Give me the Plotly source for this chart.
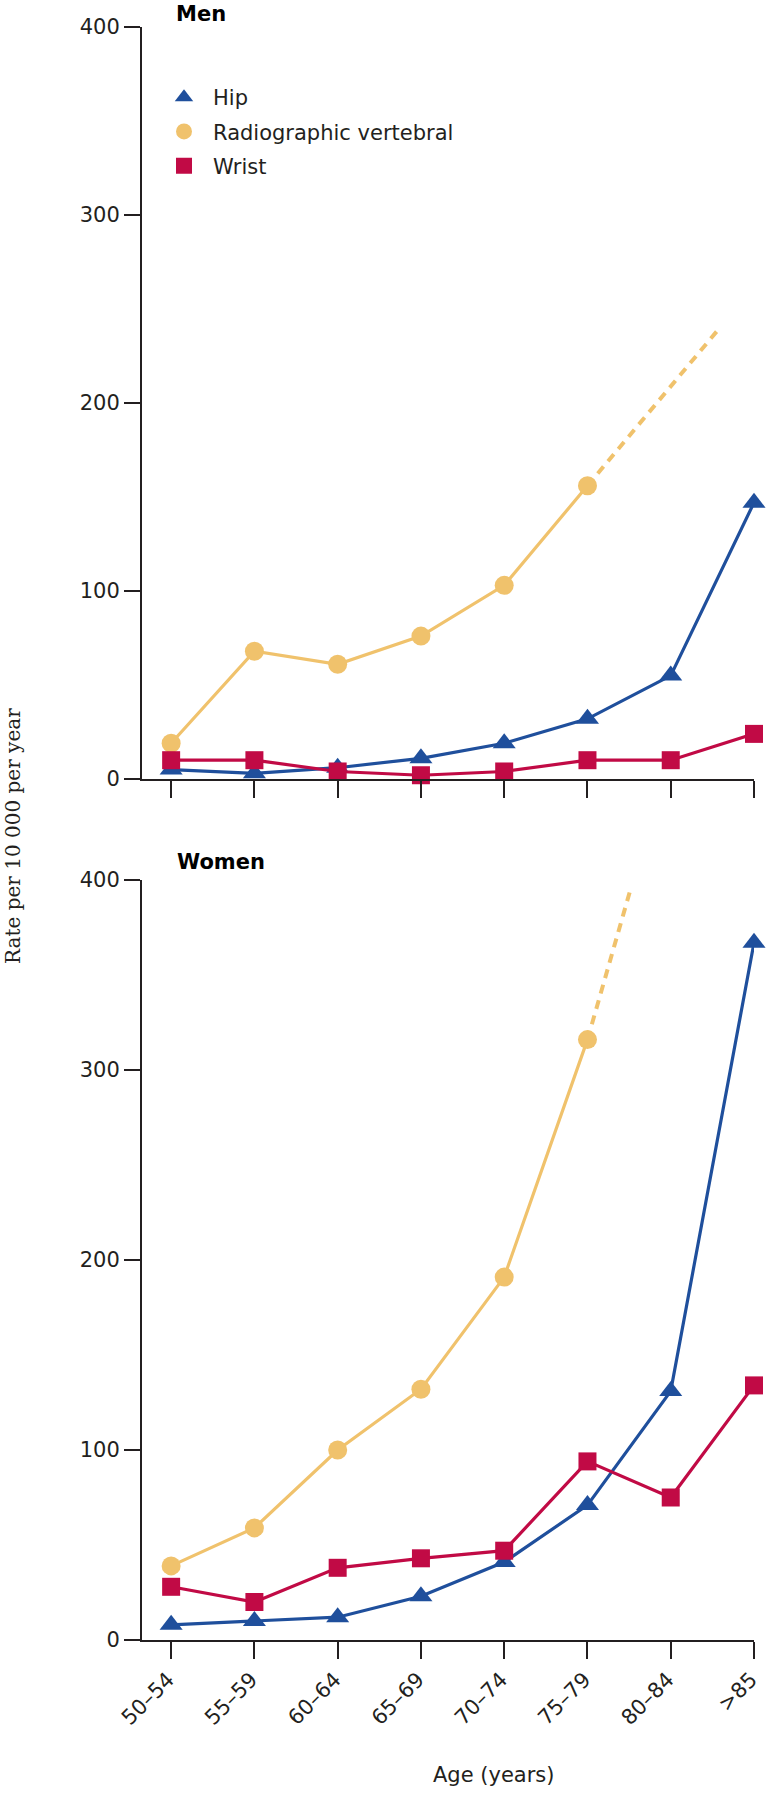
import plotly.graph_objects as go

# ---- data ----
age_groups = ["50–54", "55–59", "60–64", "65–69", "70–74", "75–79", "80–84", ">85"]
cat_pos = [0, 1, 2, 3, 4, 5, 6, 7]

men_hip = [5, 3, 6, 11, 19, 32, 55, 147]
men_vert = [19, 68, 61, 76, 103, 156]
men_wrist = [10, 10, 4, 2, 4, 10, 10, 24]
men_vert_ext_x = [5, 6.57]
men_vert_ext_y = [156, 239]

women_hip = [8, 10, 12, 23, 41, 71, 131, 367]
women_vert = [39, 59, 100, 132, 191, 316]
women_wrist = [28, 20, 38, 43, 47, 94, 75, 134]
women_vert_ext_x = [5, 5.51]
women_vert_ext_y = [316, 394]

y_ticks = [0, 100, 200, 300, 400]

# ---- styling ----
HIP = "#1f4f9c"
VERT = "#f0c26c"
WRIST = "#c10a45"
INK = "#231f20"
W, H = 768, 1793
FONT = "DejaVu Sans"

fig = go.Figure()


def add_panel(xa, ya, hip, vert, wrist, ext_x, ext_y):
    fig.add_trace(go.Scatter(x=ext_x, y=ext_y, mode="lines", xaxis=xa, yaxis=ya,
                             line=dict(color=VERT, width=4, dash="9px,7px"),
                             showlegend=False, cliponaxis=False))
    fig.add_trace(go.Scatter(x=cat_pos[:len(vert)], y=vert, mode="lines+markers",
                             xaxis=xa, yaxis=ya, line=dict(color=VERT, width=3.2),
                             marker=dict(symbol="circle", size=19, color=VERT),
                             showlegend=False, cliponaxis=False))
    fig.add_trace(go.Scatter(x=cat_pos, y=hip, mode="lines+markers",
                             xaxis=xa, yaxis=ya, line=dict(color=HIP, width=3.2),
                             marker=dict(symbol="triangle-up", size=20, color=HIP),
                             showlegend=False, cliponaxis=False))
    fig.add_trace(go.Scatter(x=cat_pos, y=wrist, mode="lines+markers",
                             xaxis=xa, yaxis=ya, line=dict(color=WRIST, width=3.2),
                             marker=dict(symbol="square", size=18, color=WRIST),
                             showlegend=False, cliponaxis=False))


add_panel("x", "y", men_hip, men_vert, men_wrist, men_vert_ext_x, men_vert_ext_y)
add_panel("x2", "y2", women_hip, women_vert, women_wrist, women_vert_ext_x, women_vert_ext_y)

# legend-only entries (markers only, as in the reference legend)
for name, color, sym, size, grp in [("Hip", HIP, "triangle-up", 20, "a"),
                                    ("Radiographic vertebral", VERT, "circle", 19, "b"),
                                    ("Wrist", WRIST, "square", 18, "c")]:
    fig.add_trace(go.Scatter(x=[None], y=[None], mode="markers", name=name,
                             legendgroup=grp, xaxis="x", yaxis="y",
                             marker=dict(symbol=sym, size=size, color=color)))

x_dom = [142 / W, 754 / W]
men_dom = [1 - 779 / H, 1 - 27 / H]
women_dom = [1 - 1640 / H, 1 - 880 / H]

common_x = dict(range=[-0.35, 7], tickmode="array", tickvals=cat_pos, ticktext=age_groups,
                showline=True, linecolor=INK, linewidth=2, ticks="outside", ticklen=17,
                tickwidth=2, tickcolor=INK, showgrid=False, zeroline=False,
                automargin=False, fixedrange=True,
                tickfont=dict(family=FONT, size=21, color=INK))
common_y = dict(range=[0, 400], tickmode="array", tickvals=y_ticks,
                showline=True, linecolor=INK, linewidth=2, ticks="outside", ticklen=16,
                tickwidth=2, tickcolor=INK, showgrid=False, zeroline=False,
                automargin=False, fixedrange=True,
                tickfont=dict(family=FONT, size=21, color=INK))

fig.update_layout(
    width=W, height=H, template="none",
    paper_bgcolor="white", plot_bgcolor="white",
    margin=dict(l=0, r=0, t=0, b=0),
    font=dict(family=FONT, size=21, color=INK),
    xaxis=dict(domain=x_dom, anchor="y", showticklabels=False, **common_x),
    yaxis=dict(domain=men_dom, anchor="x", **common_y),
    xaxis2=dict(domain=x_dom, anchor="y2", showticklabels=True, tickangle=-45,
                ticklabelshift=-3, **common_x),
    yaxis2=dict(domain=women_dom, anchor="x2", **common_y),
    showlegend=True,
    legend=dict(x=155 / W, y=1 - 77 / H, xanchor="left", yanchor="top",
                bgcolor="rgba(0,0,0,0)", borderwidth=0, tracegroupgap=4,
                itemwidth=48,
                font=dict(family=FONT, size=21, color=INK), itemsizing="trace"),
    annotations=[
        dict(text="<b>Men</b>", x=174 / W, y=1 - 14 / H, xref="paper", yref="paper",
             xanchor="left", yanchor="middle", showarrow=False,
             font=dict(family=FONT, size=21, color="#000")),
        dict(text="<b>Women</b>", x=175 / W, y=1 - 862 / H, xref="paper", yref="paper",
             xanchor="left", yanchor="middle", showarrow=False,
             font=dict(family=FONT, size=21, color="#000")),
        dict(text="Age (years)", x=493 / W, y=1 - 1775 / H, xref="paper", yref="paper",
             xanchor="center", yanchor="middle", showarrow=False,
             font=dict(family=FONT, size=21, color=INK)),
        dict(text="Rate per 10 000 per year", x=13 / W, y=1 - 836 / H, xref="paper",
             yref="paper", xanchor="center", yanchor="middle", textangle=-90,
             showarrow=False, font=dict(family="DejaVu Serif", size=20, color=INK)),
    ],
)

fig.write_html(
    "out.html",
    config={"displayModeBar": False, "staticPlot": True},
    post_script="document.body.style.margin='0px';document.body.style.padding='0px';"
                "document.documentElement.style.overflow='hidden';",
)
